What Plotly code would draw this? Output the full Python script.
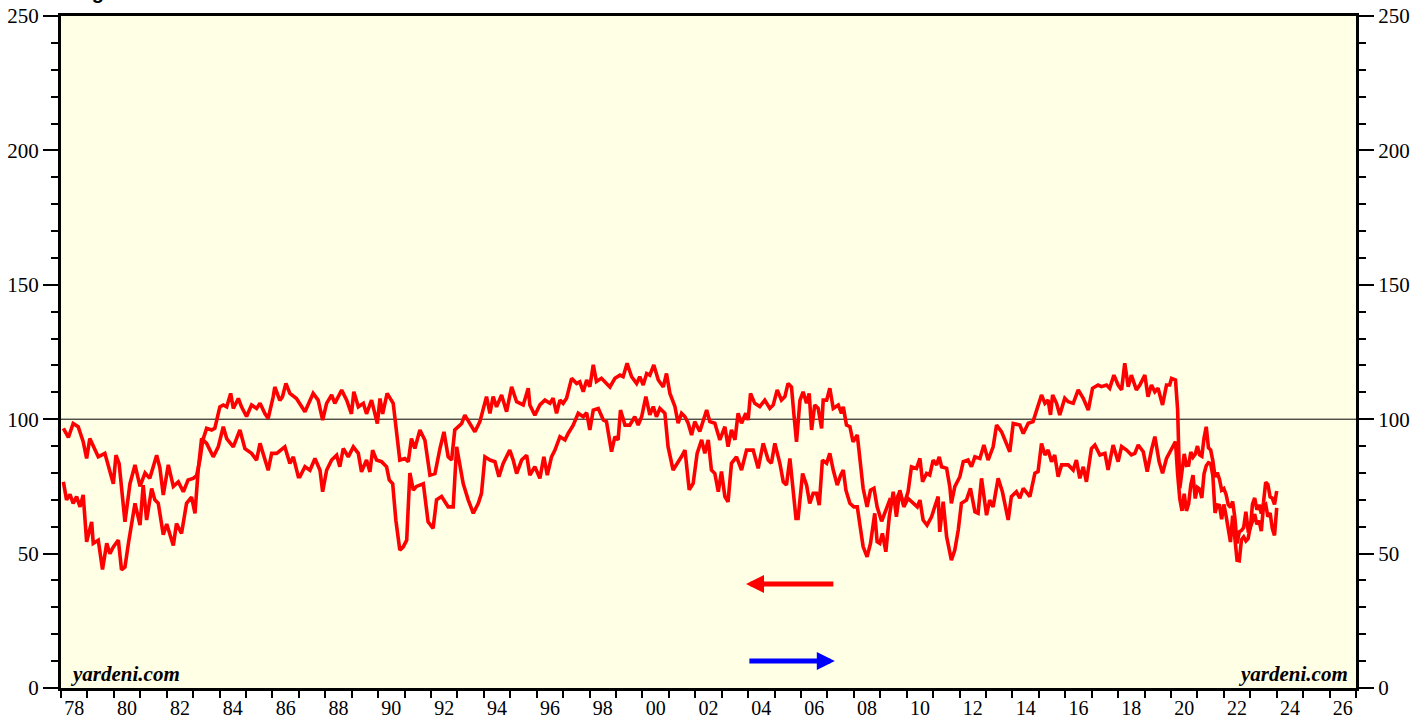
import plotly.graph_objects as go

# ---------------- DATA (decimal years, index values) ----------------
# Upper red series (current conditions)
cur_x_78 = [1978.09,1978.28,1978.46,1978.65,1978.84,1978.97,1979.09,1979.28,1979.41,1979.66,1979.85,1979.98,
            1980.08,1980.20,1980.42,1980.61,1980.80,1980.99,1981.18,1981.36,1981.62,1981.74,1981.87,
            1982.06,1982.25,1982.44,1982.63,1982.81,1983.00,1983.13,1983.26,1983.36,1983.51,1983.70,1983.82,
            1984.01,1984.14,1984.27,1984.42,1984.52,1984.71,1984.83,1985.02,1985.21,1985.40,1985.53,1985.72,1985.84,
            1986.03,1986.09,1986.28,1986.38,1986.51,1986.66,1986.91]
cur_y_78 = [96.6,93.2,98.4,97.2,91.6,85.4,92.8,88.5,86,87.3,81,76,
            86.6,83.5,61.8,76,83,75,80,78,86.6,82,71.8,
            83,75,76.7,73,77.4,78,79,85,92,96.6,96,96.6,
            104.6,105.3,104.6,109.6,104,107.7,104.6,101,105.3,104,105.9,102,100.3,
            108.4,112,107,108.4,113.3,109.6,107.7]
cur_x_87 = [1987.04,1987.23,1987.54,1987.73,1987.90,1988.05,1988.24,1988.36,1988.62,1988.81,1988.99,
            1989.08,1989.25,1989.44,1989.56,1989.75,1989.97,1990.07,1990.17,1990.34,1990.57,1990.70,1990.82,
            1991.01,1991.14,1991.26,1991.39,1991.58,1991.77,1991.96,1992.15,1992.34,1992.49,1992.65,1992.78,1992.90,
            1993.03,1993.16,1993.28,1993.47,1993.66,1993.85,1993.98,1994.10,1994.23,1994.35,1994.48,1994.67,1994.86,
            1995.05,1995.24,1995.49,1995.68,1995.74,1995.93]
cur_y_87 = [105.9,102.8,109.6,107.1,99.7,105.9,109,105.9,110.8,107.1,102,
            110.2,104.6,105.9,102,107.1,98.4,107.7,102,109.6,105.9,96,84.8,
            85.4,84.2,92.8,89.1,96,92.2,79.2,79.8,89.1,95.3,86,84.8,96,
            97.2,98.4,101.5,98.4,95.3,99.1,104.6,108.4,102.2,108.4,104.6,109,102.8,
            112,106.5,105.3,111.5,105.3,101.5]
cur_x_96 = [1996.12,1996.31,1996.50,1996.62,1996.75,1996.88,1997.00,1997.13,1997.32,1997.51,1997.63,1997.76,1997.89,
            1998.01,1998.14,1998.26,1998.45,1998.64,1998.77,1998.96,1999.15,1999.27,1999.42,1999.59,1999.78,1999.90,
            2000.03,2000.16,2000.28,2000.43,2000.60,2000.79,2000.91,2001.04,2001.23,2001.35,2001.48,2001.61,2001.73,2001.86,2001.98,
            2002.17,2002.30,2002.43,2002.55,2002.74,2002.93,2003.12,2003.24,2003.37,2003.50,2003.62,2003.75,2003.91,
            2004.00,2004.09,2004.25,2004.44,2004.63,2004.82,2004.95,2005.10,2005.26,2005.39,2005.51]
cur_y_96 = [105.3,107.1,105.9,107.8,102.2,107.1,105.9,107.8,115.2,113.3,113.9,110.2,114.6,
            112.1,120.2,114,115.2,113.3,112,115.2,116.4,115.8,120.8,115.8,113.3,115.8,
            112.7,117,116.4,120.2,114.6,112,117,109.6,104.7,98.5,102.2,100.9,98.5,94.1,99.1,
            95.4,99.7,103.4,99.1,98.5,92.3,97.2,89.8,96,92.3,102.2,98.5,102.2,
            99.7,109.6,105.9,104.7,107.1,104,105.3,110.9,107.1,108.4,113.3]
cur_x_05 = [2005.64,2005.73,2005.83,2005.96,2006.08,2006.21,2006.31,2006.40,2006.52,2006.65,2006.78,2006.84,2006.97,
            2007.09,2007.22,2007.41,2007.53,2007.60,2007.72,2007.85,2007.97,2008.13,2008.23,2008.35,2008.50,2008.63,2008.76,2008.88,
            2009.05,2009.21,2009.36,2009.55,2009.74,2009.89,2010.05,2010.18,2010.37,2010.50,2010.60,2010.75,2010.87,
            2011.00,2011.13,2011.23,2011.32,2011.51,2011.63,2011.69,2011.82,2012.01,2012.14,2012.32,2012.45,2012.58,2012.77,2012.92,
            2013.08,2013.27,2013.40,2013.59,2013.71,2013.90,2014.03]
cur_y_05 = [112,102,91.6,107,110.2,105.9,109.6,96,105.3,104,96.6,107.1,107.1,
            111.5,104,105.3,102.2,104.6,97.8,97.2,91.6,94.1,84.8,74.3,67.4,73.6,74.3,67.4,
            62,66,70,69,73,68,73,82.3,81.7,85.4,76.7,79.8,79.2,
            84.8,83,86,82.3,81.7,74.9,68.7,74.9,78.6,84.2,84.8,82.3,86,85.4,90.4,
            84.8,89.7,97.8,95.3,92.2,87.9,98.4]
cur_x_14 = [2014.28,2014.41,2014.60,2014.78,2014.91,2015.10,2015.23,2015.35,2015.44,2015.52,2015.67,2015.79,2015.98,
            2016.11,2016.30,2016.49,2016.68,2016.87,2017.03,2017.24,2017.37,2017.56,2017.68,2017.84,
            2018.00,2018.13,2018.25,2018.38,2018.50,2018.69,2018.82,2019.01,2019.13,2019.26,2019.39,2019.51,2019.68,2019.83,2019.95,
            2020.02,2020.17]
cur_y_14 = [97.8,94.7,98.5,99.1,103.4,109,105.9,107.1,101.6,109,105.9,101.6,107.8,
            106.5,105.9,110.9,107.8,103.4,111.5,112.7,112.1,112.7,111.5,116.4,
            112.7,110.9,120.8,112.1,116.4,110.9,112.7,116.4,108.4,112.7,110.2,111.5,105.3,112.7,112.7,
            115.2,114.6]
# monthly, Mar 2020 .. Dec 2023
cur_y_20 = [103.7,74.3,82.3,87.1,82.8,82.9,87.8,85.9,87.0,90.0,
            86.7,86.2,93.0,97.2,89.4,88.6,84.5,78.5,80.1,77.7,73.6,74.2,
            72.0,68.2,67.2,69.4,63.3,53.8,58.1,58.6,59.7,65.6,58.8,59.4,
            68.4,70.7,66.3,68.2,64.9,69.0,76.6,75.7,71.1,70.6,68.3,73.3]

# Lower red series (expectations)
exp_x_78 = [1978.09,1978.21,1978.34,1978.46,1978.59,1978.72,1978.84,1978.97,1979.16,1979.22,1979.41,1979.57,1979.73,1979.85,1979.98,
            1980.17,1980.29,1980.42,1980.55,1980.80,1980.99,1981.11,1981.24,1981.43,1981.55,1981.68,1981.87,
            1982.00,1982.25,1982.37,1982.56,1982.75,1982.94,1983.07,1983.19,1983.32,1983.51,1983.76,1983.95,
            1984.14,1984.27,1984.52,1984.77,1984.96,1985.21,1985.40,1985.53,1985.72,1985.84,1985.97,
            1986.16,1986.47,1986.66,1986.79,1986.98]
exp_y_78 = [76.7,70,72,68.7,71.2,67.4,71.8,54.4,61.8,53.8,55,44.1,53.8,50,52.5,
            55,44,45,53.8,68.7,60.6,75.5,62.5,74.2,70,68.7,57,
            61,53,61.2,57.5,68.7,71,65,81,92.8,91,86,89.7,
            97.2,92.8,89.7,96,89,87.3,84.8,91,84.8,81,87.3,
            87.3,89.7,83.5,86,78.6]
exp_x_87 = [1987.04,1987.23,1987.42,1987.61,1987.80,1987.90,1988.05,1988.24,1988.43,1988.55,1988.68,1988.87,
            1989.06,1989.25,1989.37,1989.56,1989.69,1989.79,1989.94,1990.13,1990.32,1990.42,1990.55,1990.67,1990.82,1990.95,
            1991.08,1991.20,1991.33,1991.45,1991.71,1991.89,1992.08,1992.21,1992.40,1992.53,1992.65,1992.84,1992.97,
            1993.22,1993.41,1993.60,1993.79,1993.91,1994.04,1994.23,1994.42,1994.57,1994.73,1994.98,
            1995.11,1995.24,1995.43,1995.62,1995.74,1995.93]
exp_y_87 = [78.6,82.3,81,85.4,81,73,81,84.8,86.6,82.3,89.1,86,
            89.7,87.3,80.4,84.8,80.4,88.5,84.8,84.2,82.3,77.4,76,62.4,51.3,52.5,
            55,80,73.6,75,76,61.8,59.4,70,71.2,69.3,67.4,67.4,89.7,
            76,69.9,65,68.7,72.4,86,84.8,84.2,78.6,83.5,88.5,
            84.8,79.8,84.8,86.6,79.2,82.3]
exp_x_96 = [1996.12,1996.27,1996.40,1996.56,1996.69,1996.88,1997.07,1997.19,1997.38,1997.57,1997.76,1997.89,
            1998.01,1998.14,1998.33,1998.52,1998.64,1998.83,1998.96,1999.08,1999.17,1999.34,1999.52,1999.71,1999.84,1999.97,
            2000.13,2000.28,2000.41,2000.53,2000.66,2000.85,2000.97,2001.16,2001.29,2001.48,2001.61,2001.77,2001.92,
            2002.07,2002.24,2002.36,2002.49,2002.61,2002.74,2002.87,2002.99,2003.12,2003.24,2003.37,2003.56,2003.75,2003.94,
            2004.19,2004.38,2004.57,2004.76,2004.88,2005.01,2005.20,2005.33,2005.45]
exp_y_96 = [78,86,79.2,86,88.5,93.5,92.3,94.7,97.8,102.2,100.9,102.4,
            96,103.4,104,99.7,99.1,87.9,93.5,92.3,103.4,97.8,97.8,100.9,97.8,100.9,
            108.4,101.6,104.7,100.9,104,102.2,89.8,81.1,83,86.1,88.5,73.7,76.1,
            87.3,92.3,87.3,92.3,81.1,79.8,73,80.5,71.2,69.3,83.6,86,81.1,88.5,
            88.5,81.7,91,84.8,83.6,91,83.6,76.7,75.5]
exp_x_05 = [2005.58,2005.70,2005.81,2005.89,2006.06,2006.21,2006.33,2006.46,2006.59,2006.69,2006.81,2006.97,
            2007.09,2007.22,2007.37,2007.50,2007.60,2007.70,2007.85,2008.00,2008.13,2008.23,2008.35,2008.50,2008.63,2008.79,2008.88,2008.98,
            2009.08,2009.21,2009.34,2009.49,2009.61,2009.74,2009.89,2010.05,2010.24,2010.40,2010.50,2010.62,2010.77,2010.94,
            2011.06,2011.19,2011.25,2011.38,2011.51,2011.69,2011.82,2011.95,2012.07,2012.26,2012.41,2012.58,2012.70,2012.83,
            2013.02,2013.14,2013.27,2013.46,2013.62,2013.84,2013.96,2014.15]
exp_y_05 = [85.4,74.9,63.1,63.1,79.8,75.5,68.7,72.4,72.4,68,84.8,83.6,
            87.3,81.1,75.5,79.2,81.1,73.6,68.7,67.4,67.4,60.6,52.6,48.8,53.8,65,54.4,53.8,
            57.5,50.7,63.7,73,63.7,73.6,67.4,70.5,68.7,67.4,69.9,62.5,60.6,63.7,
            67.4,71.2,58.1,69.3,56.3,47.6,51.3,58.8,68.7,69.9,74.3,65.6,65,78,
            64.3,69.9,67.4,78,73,62.5,71.2,73]
exp_x_14 = [2014.28,2014.41,2014.66,2014.85,2014.97,2015.10,2015.23,2015.35,2015.48,2015.60,2015.73,2015.86,
            2016.11,2016.30,2016.42,2016.55,2016.68,2016.80,2016.99,2017.12,2017.31,2017.50,2017.62,2017.81,
            2018.00,2018.13,2018.32,2018.50,2018.63,2018.76,2018.95,2019.10,2019.26,2019.39,2019.55,2019.68,2019.83,
            2020.02,2020.17]
exp_y_14 = [70.6,74.3,71.2,79.9,80.5,91,86.7,88.5,84.2,86.7,78.6,83,
            83,81.1,84.8,78,82.3,76.7,89.1,90.4,86.7,87.3,81.1,90.4,
            84.2,89.8,88.5,86.7,87.3,90.4,87.9,80.5,88.5,93.5,84.2,79.9,85.4,
            89.1,91.7]
exp_y_20 = [79.7,70.3,65.9,72.3,65.9,68.5,75.6,79.2,70.5,74.6,
            74.0,70.7,79.7,82.7,83.8,83.5,79.0,65.1,68.1,67.9,62.8,68.3,
            64.1,59.4,54.3,64.1,56.3,47.5,47.3,55.2,56.2,54.7,55.6,59.9,
            62.0,64.7,60.9,62.3,58.4,67.7,68.3,63.7,65.1,59.3,56.8,67.0]

# month-end dates Mar 2020 .. Dec 2023
month_x_20 = [2020 + (3 + i) / 12 for i in range(len(cur_y_20))]

x_tick_years = list(range(1978, 2027, 2))
x_tick_labels = [f"{y % 100:02d}" for y in x_tick_years]
y_tick_vals = [0, 50, 100, 150, 200, 250]

# ---------------- BUILD ----------------
cur_x = cur_x_78 + cur_x_87 + cur_x_96 + cur_x_05 + cur_x_14 + month_x_20
cur_y = cur_y_78 + cur_y_87 + cur_y_96 + cur_y_05 + cur_y_14 + cur_y_20
exp_x = exp_x_78 + exp_x_87 + exp_x_96 + exp_x_05 + exp_x_14 + month_x_20
exp_y = exp_y_78 + exp_y_87 + exp_y_96 + exp_y_05 + exp_y_14 + exp_y_20
assert len(cur_x) == len(cur_y), (len(cur_x), len(cur_y))
assert len(exp_x) == len(exp_y), (len(exp_x), len(exp_y))

RED = "#FF0000"
fig = go.Figure()
fig.add_trace(go.Scatter(x=cur_x, y=cur_y, mode="lines",
                         line=dict(color=RED, width=3.6), showlegend=False))
fig.add_trace(go.Scatter(x=exp_x, y=exp_y, mode="lines",
                         line=dict(color=RED, width=3.6), showlegend=False))
fig.add_trace(go.Scatter(x=[None], y=[None], yaxis="y2", showlegend=False))

tickfont = dict(family="Liberation Serif", size=21, color="black")
xtickfont = dict(family="Liberation Serif", size=20, color="black")

yaxis_common = dict(
    range=[0, 250], tickvals=y_tick_vals, ticks="outside", ticklen=15, tickwidth=1.5,
    tickcolor="black", showline=True, linewidth=3, linecolor="black",
    showgrid=False, zeroline=False, tickfont=tickfont, automargin=False,
    minor=dict(dtick=10, tick0=0, ticks="outside", ticklen=7, tickwidth=1.5, tickcolor="black", showgrid=False),
)

fig.update_layout(
    template="none",
    width=1427, height=719,
    margin=dict(l=61, r=71, t=16, b=31, pad=0),
    paper_bgcolor="white", plot_bgcolor="#FFFFE6",
    font=dict(family="Liberation Serif", color="black"),
    xaxis=dict(
        range=[1978, 2027], tickmode="array", automargin=False,
        tickvals=[y + 0.5 for y in x_tick_years], ticktext=x_tick_labels,
        ticks="", ticklen=0, tickcolor="rgba(0,0,0,0)",
        showline=True, linewidth=3, linecolor="black", mirror=True,
        showgrid=False, zeroline=False, tickfont=xtickfont,
        minor=dict(tick0=1978, dtick=1, ticks="outside", ticklen=7, tickwidth=2,
                   tickcolor="black", showgrid=False),
    ),
    yaxis=dict(**yaxis_common, side="left"),
    yaxis2=dict(**yaxis_common, side="right", overlaying="y", anchor="x"),
    showlegend=False,
)

fig.add_shape(type="line", xref="paper", x0=0, x1=1, yref="y", y0=100, y1=100,
              line=dict(color="black", width=1), layer="below")

# axis direction arrows
fig.add_annotation(x=2003.92, y=38.7, ax=2007.28, ay=38.7, xref="x", yref="y",
                   axref="x", ayref="y", text="", showarrow=True,
                   arrowhead=2, arrowsize=0.72, arrowwidth=5, arrowcolor=RED)
fig.add_annotation(x=2007.28, y=10, ax=2003.99, ay=10, xref="x", yref="y",
                   axref="x", ayref="y", text="", showarrow=True,
                   arrowhead=2, arrowsize=0.72, arrowwidth=5, arrowcolor="#0000FF")

wm_font = dict(family="Liberation Serif", size=21, color="black", weight="bold", style="italic")
fig.add_annotation(text="yardeni.com", xref="paper", yref="paper", x=0.0055, y=0.0,
                   xanchor="left", yanchor="bottom", showarrow=False, font=wm_font)
fig.add_annotation(text="yardeni.com", xref="paper", yref="paper", x=0.9955, y=0.0,
                   xanchor="right", yanchor="bottom", showarrow=False, font=wm_font)

# title, mostly above the visible page (only descenders show, as in the reference)
fig.add_annotation(text="Figure 1.", xref="paper", yref="paper", x=(72 - 61) / 1295, y=1.0165,
                   xanchor="left", yanchor="bottom", showarrow=False,
                   font=dict(family="Liberation Sans", size=20, color="black", weight="bold"))

fig.write_html("out.html", config={"displayModeBar": False},
               post_script="document.body.style.margin='0';document.body.style.overflow='hidden';")
